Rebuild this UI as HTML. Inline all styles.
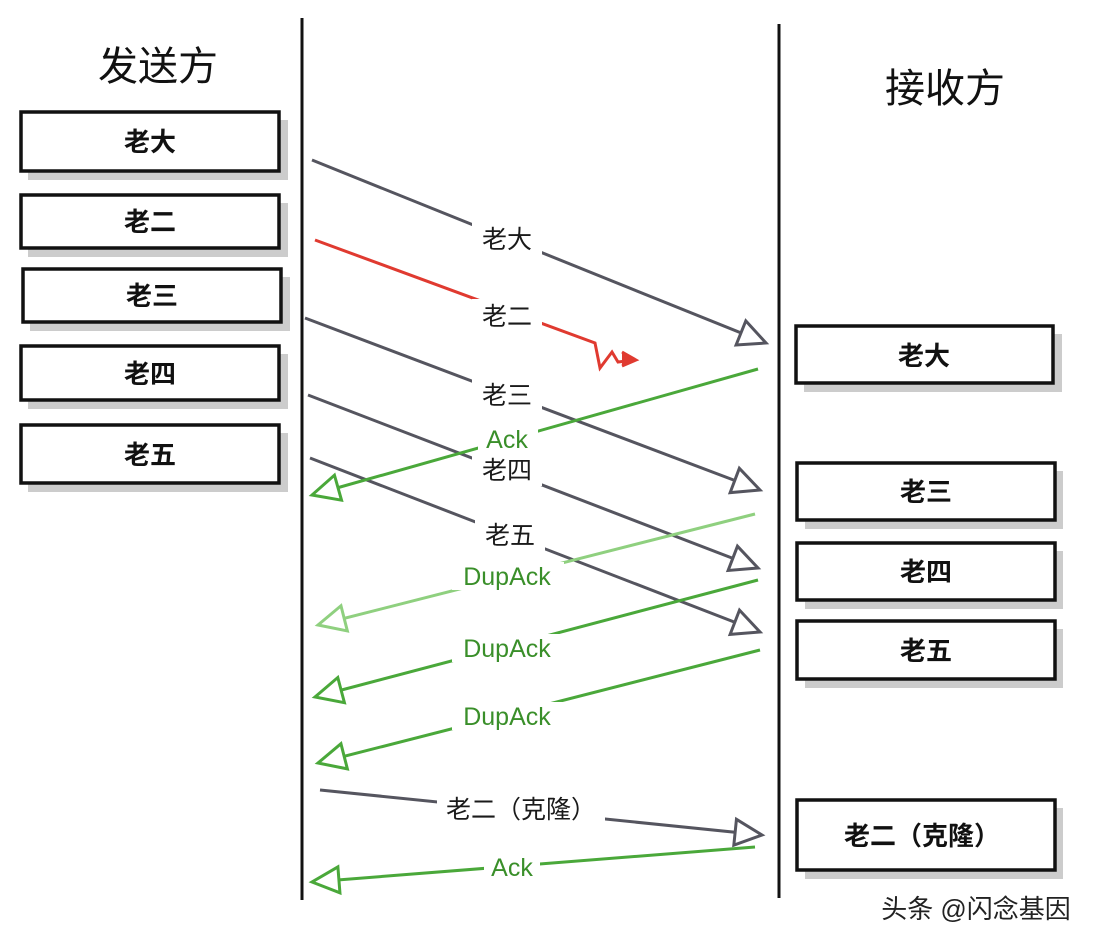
<!DOCTYPE html>
<html><head><meta charset="utf-8"><style>
html,body{margin:0;padding:0;background:#fff;}
svg{display:block}
text{font-family:"Liberation Sans","Noto Sans CJK SC",sans-serif;}
</style></head><body>
<svg width="1100" height="946" viewBox="0 0 1100 946" xmlns="http://www.w3.org/2000/svg">
<defs>
<marker id="ag" markerUnits="userSpaceOnUse" markerWidth="34" markerHeight="34" viewBox="-3 -3 34 32" refX="27" refY="13" orient="auto"><path d="M0,0 L27,13 L0,26 Z" fill="#fff" stroke="#55555f" stroke-width="3"/></marker>
<marker id="agr" markerUnits="userSpaceOnUse" markerWidth="34" markerHeight="34" viewBox="-3 -3 34 32" refX="27" refY="13" orient="auto"><path d="M0,0 L27,13 L0,26 Z" fill="#fff" stroke="#4aa83a" stroke-width="3"/></marker>
<marker id="agl" markerUnits="userSpaceOnUse" markerWidth="34" markerHeight="34" viewBox="-3 -3 34 32" refX="27" refY="13" orient="auto"><path d="M0,0 L27,13 L0,26 Z" fill="#fff" stroke="#8fd07f" stroke-width="3"/></marker>
</defs>
<rect width="1100" height="946" fill="#fff"/>
<text x="158" y="80" font-size="40" text-anchor="middle" fill="#111">发送方</text>
<text x="945" y="102" font-size="40" text-anchor="middle" fill="#111">接收方</text>
<line x1="302" y1="18" x2="302" y2="900" stroke="#111" stroke-width="3"/>
<line x1="779" y1="24" x2="779" y2="898" stroke="#111" stroke-width="3"/>
<g fill="#cccccc">
<rect x="28" y="120" width="260" height="60"/><rect x="28" y="203" width="260" height="54"/><rect x="30" y="277" width="260" height="54"/><rect x="28" y="354" width="260" height="55"/><rect x="28" y="433" width="260" height="59"/>
<rect x="804" y="334" width="258" height="58"/><rect x="805" y="471" width="258" height="58"/><rect x="805" y="551" width="258" height="58"/><rect x="805" y="629" width="258" height="59"/><rect x="805" y="808" width="258" height="71"/>
</g>
<g fill="#fff" stroke="#111" stroke-width="3.5">
<rect x="21" y="112" width="258" height="59"/><rect x="21" y="195" width="258" height="53"/><rect x="23" y="269" width="258" height="53"/><rect x="21" y="346" width="258" height="54"/><rect x="21" y="425" width="258" height="58"/>
<rect x="796" y="326" width="257" height="57"/><rect x="797" y="463" width="258" height="57"/><rect x="797" y="543" width="258" height="57"/><rect x="797" y="621" width="258" height="58"/><rect x="797" y="800" width="258" height="70"/>
</g>
<g font-size="26" font-weight="bold" text-anchor="middle" fill="#111">
<text x="150" y="151">老大</text><text x="150" y="231">老二</text><text x="152" y="305">老三</text><text x="150" y="383">老四</text><text x="150" y="464">老五</text>
<text x="924" y="365">老大</text><text x="926" y="501">老三</text><text x="926" y="581">老四</text><text x="926" y="660">老五</text><text x="922" y="845">老二（克隆）</text>
</g>
<g fill="none" stroke-width="3">
<line x1="312" y1="160" x2="766" y2="343" stroke="#55555f" marker-end="url(#ag)"/>
<line x1="305" y1="318" x2="760" y2="490" stroke="#55555f" marker-end="url(#ag)"/>
<line x1="308" y1="395" x2="758" y2="568" stroke="#55555f" marker-end="url(#ag)"/>
<line x1="310" y1="458" x2="760" y2="632" stroke="#55555f" marker-end="url(#ag)"/>
<line x1="320" y1="790" x2="762" y2="835" stroke="#55555f" marker-end="url(#ag)"/>
<path d="M315,240 L595,343 L600,368 L612,352 L618,362 L635,360" stroke="#e03a30"/>
<path d="M622,352 L636,360 L622,366" stroke="#e03a30" fill="#e03a30"/>
<line x1="758" y1="369" x2="312" y2="495" stroke="#4aa83a" marker-end="url(#agr)"/>
<line x1="755" y1="514" x2="318" y2="625" stroke="#8fd07f" marker-end="url(#agl)"/>
<line x1="758" y1="580" x2="315" y2="697" stroke="#4aa83a" marker-end="url(#agr)"/>
<line x1="760" y1="650" x2="318" y2="763" stroke="#4aa83a" marker-end="url(#agr)"/>
<line x1="755" y1="847" x2="312" y2="882" stroke="#4aa83a" marker-end="url(#agr)"/>
</g>
<g fill="#fff">
<rect x="472" y="222" width="70" height="34"/><rect x="472" y="299" width="70" height="34"/><rect x="472" y="378" width="70" height="34"/><rect x="472" y="454" width="70" height="32"/><rect x="475" y="518" width="70" height="34"/>
<rect x="478" y="425" width="60" height="27"/><rect x="452" y="562" width="112" height="28"/><rect x="452" y="634" width="112" height="28"/><rect x="452" y="702" width="112" height="28"/>
<rect x="437" y="792" width="168" height="34"/><rect x="484" y="854" width="56" height="28"/>
</g>
<g font-size="25" text-anchor="middle" fill="#1a1a1a">
<text x="507" y="248">老大</text><text x="507" y="325">老二</text><text x="507" y="404">老三</text><text x="507" y="479">老四</text><text x="510" y="544">老五</text><text x="521" y="818">老二（克隆）</text>
</g>
<g font-size="25" text-anchor="middle" fill="#3a8f2a">
<text x="507" y="448">Ack</text><text x="507" y="585">DupAck</text><text x="507" y="657">DupAck</text><text x="507" y="725">DupAck</text><text x="512" y="876">Ack</text>
</g>
<text x="976" y="918" font-size="26" text-anchor="middle" fill="#222">头条 @闪念基因</text>
</svg>
</body></html>
